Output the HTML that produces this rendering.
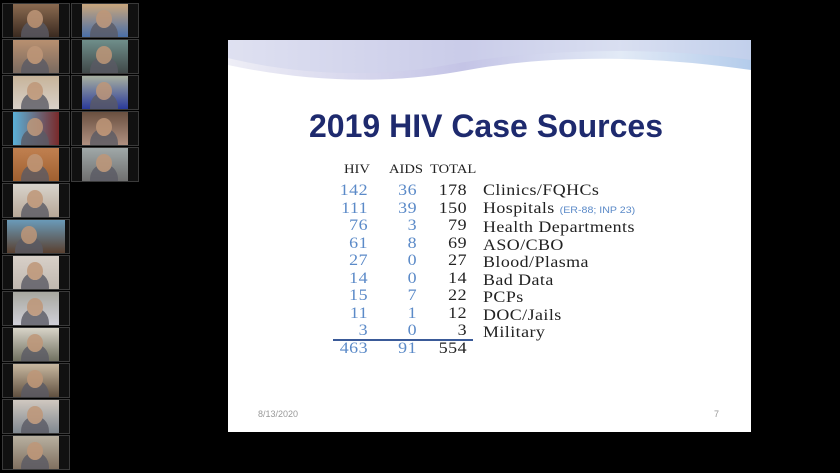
<!DOCTYPE html>
<html><head><meta charset="utf-8"><style>
body{margin:0;width:840px;height:473px;background:#000;position:relative;overflow:hidden;font-family:"Liberation Sans",sans-serif}
.t{position:absolute;width:68px;height:35px;background:#111;border:1px solid #3a3a3a;box-sizing:border-box;overflow:hidden}
.t i{position:absolute;top:0;bottom:0;left:10px;width:46px;display:block}
.t i:after{content:"";position:absolute;left:14px;top:6px;width:16px;height:18px;border-radius:50%;background:rgba(190,150,120,.85);box-shadow:0 16px 0 6px rgba(90,90,100,.8)}
#slide{position:absolute;left:228px;top:40px;width:523px;height:392px;background:#fff;overflow:hidden}
.s{position:absolute;font-family:"Liberation Serif",serif;font-size:16px;line-height:17.5px;letter-spacing:.4px;transform:scaleX(1.12);transform-origin:right top}
.b{color:#5b8ac8}.k{color:#222}
</style></head><body>
<div class="t" style="left:2px;top:3px"><i style="background:linear-gradient(#8a6a50,#3a2a20)"></i></div>
<div class="t" style="left:71px;top:3px"><i style="background:linear-gradient(#c9a67c,#4a6fa8)"></i></div>
<div class="t" style="left:2px;top:39px"><i style="background:linear-gradient(#b89070,#7a6a60)"></i></div>
<div class="t" style="left:71px;top:39px"><i style="background:linear-gradient(#6f8e8a,#404848)"></i></div>
<div class="t" style="left:2px;top:75px"><i style="background:linear-gradient(#c7b49a,#d8d0c8)"></i></div>
<div class="t" style="left:71px;top:75px"><i style="background:linear-gradient(#a8b0a0,#2a3a9a)"></i></div>
<div class="t" style="left:2px;top:111px"><i style="background:linear-gradient(90deg,#5ab0d8,#7a2a2a)"></i></div>
<div class="t" style="left:71px;top:111px"><i style="background:linear-gradient(#6a5040,#b09080)"></i></div>
<div class="t" style="left:2px;top:147px"><i style="background:linear-gradient(#c08050,#a06030)"></i></div>
<div class="t" style="left:71px;top:147px"><i style="background:linear-gradient(#a0a8a8,#707070)"></i></div>
<div class="t" style="left:2px;top:183px"><i style="background:linear-gradient(#d8d4cc,#b8a898)"></i></div>
<div class="t" style="left:2px;top:219px"><i style="left:4px;width:58px;background:linear-gradient(#6a9ab8,#5a4030)"></i></div>
<div class="t" style="left:2px;top:255px"><i style="background:linear-gradient(#d8d0c8,#c0b8b0)"></i></div>
<div class="t" style="left:2px;top:291px"><i style="background:linear-gradient(#a8a8a0,#d0d0d8)"></i></div>
<div class="t" style="left:2px;top:327px"><i style="background:linear-gradient(#d8d4c8,#707060)"></i></div>
<div class="t" style="left:2px;top:363px"><i style="background:linear-gradient(#c8b8a0,#605040)"></i></div>
<div class="t" style="left:2px;top:399px"><i style="background:linear-gradient(#d0c8c0,#808890)"></i></div>
<div class="t" style="left:2px;top:435px"><i style="background:linear-gradient(#b8b0a0,#807060)"></i></div>

<div id="slide">
<svg width="523" height="392" style="position:absolute;left:0;top:0">
<defs><linearGradient id="g" x1="0" x2="1"><stop offset="0" stop-color="#eeeef6"/><stop offset=".45" stop-color="#c4c4e6"/><stop offset=".75" stop-color="#e2eaf6"/><stop offset="1" stop-color="#b4cceb"/></linearGradient></defs>
<path d="M0 0H523V30C420 15 320 15 240 30C160 45 80 42 0 25Z" fill="url(#g)"/>
<path d="M0 0H523V20C420 5 300 10 220 25C150 38 70 35 0 18Z" fill="#d0d3ec" opacity=".5"/>
</svg>
<div style="position:absolute;left:0;width:516px;top:68px;text-align:center;font-weight:bold;font-size:32px;color:#1e2a6e">2019 HIV Case Sources</div>
<div class="s k" style="left:116px;top:120px;font-size:13px;letter-spacing:0;transform-origin:left top">HIV</div>
<div class="s k" style="left:161px;top:120px;font-size:13px;letter-spacing:0;transform-origin:left top">AIDS</div>
<div class="s k" style="left:202px;top:120px;font-size:13px;letter-spacing:0;transform-origin:left top">TOTAL</div>
<div class="s b" style="left:90px;top:142px;width:50px;text-align:right">142<br>111<br>76<br>61<br>27<br>14<br>15<br>11<br>3<br>463</div>
<div class="s b" style="left:140px;top:142px;width:49px;text-align:right">36<br>39<br>3<br>8<br>0<br>0<br>7<br>1<br>0<br>91</div>
<div class="s k" style="left:190px;top:142px;width:49px;text-align:right">178<br>150<br>79<br>69<br>27<br>14<br>22<br>12<br>3<br>554</div>
<div class="s k" style="left:255px;top:142px;white-space:nowrap;transform-origin:left top">Clinics/FQHCs<br>Hospitals <span style="font-family:'Liberation Sans',sans-serif;font-size:9.5px;letter-spacing:0;color:#5b8ac8">(ER-88; INP 23)</span><br>Health Departments<br>ASO/CBO<br>Blood/Plasma<br>Bad Data<br>PCPs<br>DOC/Jails<br>Military</div>
<div style="position:absolute;left:105px;top:299px;width:140px;height:2px;background:#3a5a98"></div>
<div style="position:absolute;left:30px;top:369px;font-size:9px;color:#999">8/13/2020</div>
<div style="position:absolute;left:486px;top:369px;font-size:9px;color:#999">7</div>
</div>
</body></html>
